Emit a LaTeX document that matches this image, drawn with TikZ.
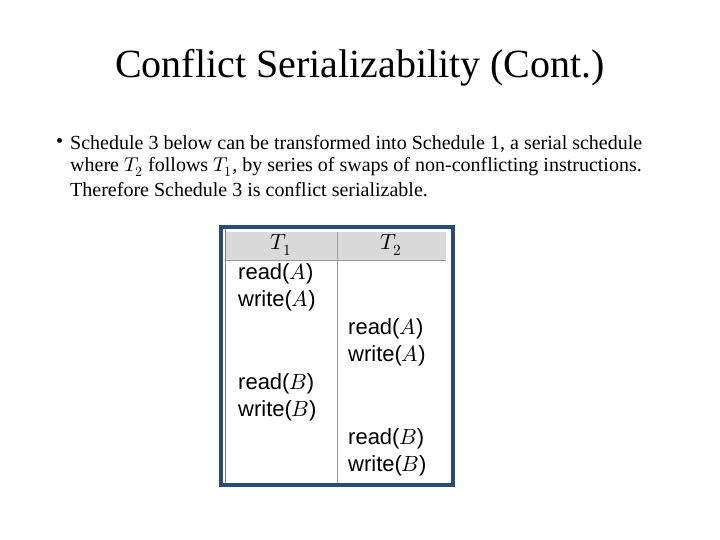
\documentclass[tikz,border=0pt]{standalone}
\usepackage{fontspec}
\setmainfont{Liberation Serif}
\setsansfont{Liberation Sans}
\usepackage{unicode-math}
\setmathfont{Latin Modern Math}
\definecolor{frameblue}{HTML}{264C7E}
\definecolor{headgray}{HTML}{DADADA}
\begin{document}
\begin{tikzpicture}[x=1pt,y=-1pt,
  cell/.style={anchor=west,font=\sffamily\fontsize{22}{26}\selectfont,inner sep=0pt},
  head/.style={font=\fontsize{22}{26}\selectfont,inner sep=0pt},
  body/.style={anchor=west,font=\fontsize{20}{24}\selectfont,inner sep=0pt}]
\useasboundingbox (0,0) rectangle (720,540);
\node[font=\fontsize{40}{44}\selectfont] (title) at (360,68) {Conflict Serializability (Cont.)};
\node[body] (bul) at (56,143) {•};
\node[body] (l1) at (70,144) {Schedule 3 below can be transformed into Schedule 1, a serial schedule};
\node[body] (l2) at (70,167) {where $T_2$ follows $T_1$, by series of swaps of non-conflicting instructions.};
\node[body] (l3) at (70,190) {Therefore Schedule 3 is conflict serializable.};
% table
\draw[frameblue,line width=4pt] (221,227) rectangle (453,485);
\fill[headgray] (226,232) rectangle (446,260);
\draw[gray!80,line width=0.8pt] (226,260) -- (446,260);
\draw[gray!80,line width=0.8pt] (337,232) -- (337,483);
\draw[gray,line width=0.6pt] (225,229) -- (225,483);
\node[head] (h1) at (281,245) {$T_1$};
\node[head] (h2) at (391,245) {$T_2$};
\node[cell] (a1) at (238,274) {read($A$)};
\node[cell] (a2) at (238,301) {write($A$)};
\node[cell] (b1) at (348,329) {read($A$)};
\node[cell] (b2) at (348,356) {write($A$)};
\node[cell] (a3) at (238,384) {read($B$)};
\node[cell] (a4) at (238,411) {write($B$)};
\node[cell] (b3) at (348,439) {read($B$)};
\node[cell] (b4) at (348,466) {write($B$)};
\end{tikzpicture}
\end{document}
